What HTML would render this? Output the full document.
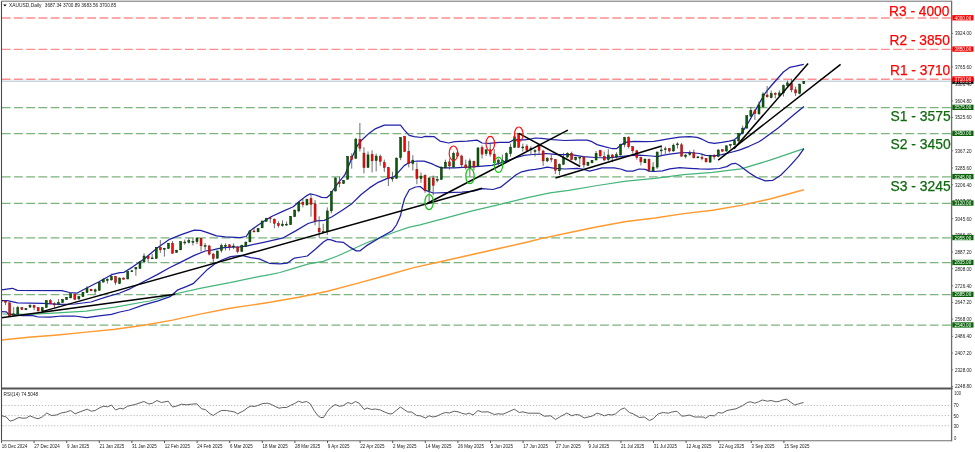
<!DOCTYPE html>
<html lang="en"><head><meta charset="utf-8"><title>XAUUSD Daily</title>
<style>
html,body{margin:0;padding:0;background:#fff;}
body{width:975px;height:452px;overflow:hidden;}
svg{display:block;}
text{font-family:"Liberation Sans",sans-serif;}
.ax{font-size:5.2px;fill:#1a1a1a;}
.bxl{font-size:5.2px;fill:#fff;}
.big{font-size:14.8px;}
</style></head><body>
<svg width="975" height="452" viewBox="0 0 975 452">
<rect x="0" y="0" width="975" height="452" fill="#fff"/>
<g fill="none" stroke-dasharray="8.8 3.41">
<path d="M1.8 18.0 H951.6" stroke="#ff8f8f" stroke-width="1.35"/>
<path d="M1.8 49.3 H951.6" stroke="#ff8f8f" stroke-width="1.35"/>
<path d="M1.8 79.2 H951.6" stroke="#ff8f8f" stroke-width="1.35"/>
<path d="M1.8 107.6 H951.6" stroke="#7db37d" stroke-width="1.2"/>
<path d="M1.8 133.6 H951.6" stroke="#7db37d" stroke-width="1.2"/>
<path d="M1.8 176.8 H951.6" stroke="#7db37d" stroke-width="1.2"/>
<path d="M1.8 203.3 H951.6" stroke="#7db37d" stroke-width="1.2"/>
<path d="M1.8 237.8 H951.6" stroke="#7db37d" stroke-width="1.2"/>
<path d="M1.8 262.7 H951.6" stroke="#7db37d" stroke-width="1.2"/>
<path d="M1.8 294.6 H951.6" stroke="#7db37d" stroke-width="1.2"/>
<path d="M1.8 325.2 H951.6" stroke="#7db37d" stroke-width="1.2"/>
</g>
<path d="M1.5 81.2 H951.6" stroke="#b4c3cf" stroke-width="1" fill="none"/>
<path d="M1.5 340.0 L28.7 337.3 L57.5 335.0 L86.2 332.1 L115.0 329.2 L143.7 325.2 L172.5 320.1 L201.2 313.9 L230.0 308.2 L258.7 304.0 L270.0 302.3 L298.7 297.3 L327.5 291.2 L356.2 283.6 L385.0 275.7 L413.7 267.6 L442.5 261.2 L471.2 254.8 L500.0 248.2 L528.7 241.8 L540.0 238.9 L568.7 232.8 L597.5 226.7 L626.2 221.5 L655.0 218.0 L683.7 213.6 L712.5 210.2 L741.2 205.4 L770.0 199.0 L803.9 189.8" fill="none" stroke="#ff9a30" stroke-width="1.4" stroke-linejoin="round"/>
<path d="M2.3 314.0 L28.7 314.3 L57.5 312.8 L86.2 311.1 L115.0 307.1 L143.7 302.0 L150.0 301.0 L172.5 294.5 L201.2 288.1 L230.0 282.7 L258.7 276.6 L270.0 274.6 L280.0 272.5 L294.4 268.2 L308.7 263.9 L323.1 261.3 L337.5 256.0 L351.9 249.5 L366.2 243.0 L380.6 237.3 L395.0 232.0 L409.4 227.2 L420.0 224.8 L442.5 218.8 L471.2 211.1 L500.0 204.4 L528.7 197.3 L550.0 192.9 L568.7 190.4 L597.5 185.5 L626.2 181.2 L655.0 178.3 L683.7 174.6 L712.5 172.3 L741.2 168.8 L770.0 160.2 L803.9 148.7" fill="none" stroke="#45b57a" stroke-width="1.25" stroke-linejoin="round"/>
<path d="M1.5 289.8 L12.4 288.3 L17.3 290.4 L62.0 290.6 L69.3 292.5 L76.8 293.2 L86.7 288.0 L99.0 281.7 L111.5 274.7 L120.0 272.7 L123.7 272.5 L132.4 267.1 L144.8 258.5 L157.2 247.9 L169.5 239.3 L181.9 234.3 L194.3 230.2 L200.5 230.4 L206.7 232.4 L216.6 235.9 L225.3 236.8 L240.0 237.6 L246.2 236.5 L249.9 230.9 L258.6 224.7 L271.0 216.7 L283.3 211.1 L293.3 206.8 L299.4 201.2 L306.9 195.6 L310.2 193.8 L315.5 195.0 L321.7 197.4 L326.7 197.7 L330.4 194.5 L332.4 191.0 L338.6 182.3 L344.8 174.9 L348.5 166.2 L352.2 157.1 L357.2 145.9 L362.1 139.7 L369.5 132.9 L375.7 128.6 L384.4 125.2 L400.5 125.1 L404.2 129.8 L409.2 135.4 L414.1 136.6 L421.5 137.5 L425.3 136.3 L433.9 136.6 L439.9 141.1 L448.6 143.0 L454.8 141.7 L467.2 141.1 L477.1 140.1 L482.0 143.0 L489.4 143.3 L499.3 142.3 L509.3 142.3 L514.2 139.6 L524.1 139.9 L529.1 139.3 L535.3 138.0 L541.5 138.4 L552.4 139.6 L564.8 140.5 L577.2 140.1 L587.1 140.1 L592.0 141.7 L597.0 144.6 L604.4 146.7 L611.8 148.5 L616.8 148.5 L620.5 145.4 L625.4 142.3 L634.1 141.4 L645.3 141.7 L653.9 141.4 L659.9 140.4 L669.8 138.6 L679.7 137.1 L689.6 136.7 L697.1 137.3 L702.0 139.2 L708.2 142.3 L714.4 143.3 L721.8 142.3 L729.3 141.1 L734.2 139.8 L739.2 136.1 L744.1 129.3 L747.5 124.0 L752.4 115.4 L758.6 104.6 L764.8 93.7 L771.0 86.0 L777.2 79.0 L783.4 72.0 L789.6 67.4 L795.7 66.2 L803.8 64.3" fill="none" stroke="#2020a8" stroke-width="1.25" stroke-linejoin="round"/>
<path d="M1.5 300.6 L7.5 300.6 L17.5 302.8 L43.0 303.4 L60.0 304.3 L75.0 304.0 L86.7 302.5 L90.9 302.0 L105.0 297.3 L119.8 293.0 L130.0 288.8 L144.8 281.0 L157.2 274.6 L169.5 267.8 L181.9 261.6 L194.3 255.4 L205.4 251.0 L212.9 249.8 L221.5 247.9 L231.5 247.1 L240.0 246.8 L247.4 245.8 L264.8 242.1 L283.3 237.8 L295.7 230.9 L308.1 223.5 L316.8 220.8 L324.2 220.4 L331.6 217.0 L342.3 210.2 L352.2 203.4 L360.9 194.7 L369.5 187.9 L378.2 182.3 L386.9 178.6 L394.3 176.7 L399.3 171.2 L404.2 165.6 L409.2 162.5 L416.6 161.0 L424.0 161.2 L431.5 163.6 L435.0 165.3 L441.1 167.8 L454.8 167.8 L467.2 167.1 L479.5 166.3 L491.9 165.3 L499.3 163.4 L506.8 160.9 L516.7 157.5 L524.1 155.4 L532.8 154.5 L541.5 154.1 L546.2 153.5 L552.4 154.1 L558.6 154.7 L571.0 154.7 L583.3 156.6 L595.7 157.5 L608.1 157.8 L620.5 156.6 L629.2 155.7 L639.1 155.1 L651.5 156.0 L657.4 156.6 L662.4 155.3 L669.8 154.1 L679.7 152.8 L689.6 152.5 L699.5 153.5 L705.7 155.3 L714.4 155.9 L721.8 154.7 L730.5 152.5 L739.2 150.2 L749.1 146.3 L759.0 141.7 L765.2 137.6 L778.5 127.7 L791.7 116.6 L803.9 106.6" fill="none" stroke="#2020a8" stroke-width="1.25" stroke-linejoin="round"/>
<path d="M1.5 311.7 L6.4 311.9 L8.6 314.2 L22.3 315.6 L32.9 315.7 L38.2 317.0 L50.0 317.2 L61.9 316.0 L74.3 316.0 L86.7 317.7 L99.0 315.8 L111.5 314.4 L119.8 312.0 L129.3 310.0 L143.7 304.8 L158.1 300.8 L170.1 296.7 L177.3 290.2 L186.8 286.3 L193.1 283.7 L200.3 276.6 L207.5 269.4 L214.7 263.9 L221.9 260.0 L230.5 256.7 L242.0 255.3 L250.6 257.6 L259.2 258.9 L269.3 263.3 L280.0 263.9 L287.2 263.2 L294.4 258.1 L301.6 257.0 L307.3 256.0 L315.9 248.8 L323.1 242.3 L327.4 239.4 L330.3 239.7 L336.1 241.6 L343.2 242.3 L349.0 246.6 L356.2 250.9 L359.8 250.9 L366.2 245.9 L380.6 237.3 L392.1 230.8 L396.4 225.0 L399.3 218.6 L400.7 215.0 L402.0 208.0 L404.6 198.5 L409.3 189.8 L415.5 187.0 L420.1 186.5 L424.8 190.2 L433.3 193.0 L446.5 192.6 L461.9 192.1 L474.3 191.0 L482.1 188.7 L492.9 189.5 L500.6 187.2 L508.4 181.0 L516.1 174.8 L521.6 171.8 L529.1 170.2 L535.3 169.4 L541.5 168.4 L547.4 167.1 L554.9 168.4 L564.8 169.0 L577.2 168.4 L582.1 169.0 L589.5 171.1 L595.7 169.6 L601.9 167.8 L614.3 167.8 L620.5 169.0 L626.7 171.1 L632.9 171.1 L639.1 169.0 L645.3 169.4 L649.0 171.1 L653.9 171.5 L662.4 170.8 L669.8 168.9 L679.7 167.7 L689.6 168.3 L699.5 168.9 L709.4 169.2 L719.3 168.5 L726.8 166.6 L731.7 163.8 L735.4 163.3 L739.2 165.2 L744.1 168.9 L749.1 172.7 L756.4 177.4 L765.2 180.8 L772.9 180.3 L780.7 175.2 L789.5 166.4 L798.4 156.4 L803.9 148.7" fill="none" stroke="#2020a8" stroke-width="1.25" stroke-linejoin="round"/>
<g>
<path d="M5.57 300.3 V305.2" stroke="#4a4a4a" stroke-width="0.8"/><rect x="4.57" y="301.0" width="2.0" height="1.2" fill="#f40808" stroke="#8c1010" stroke-width="0.5"/>
<path d="M9.64 302.5 V316.0" stroke="#4a4a4a" stroke-width="0.8"/><rect x="8.64" y="302.8" width="2.0" height="13.0" fill="#f40808" stroke="#8c1010" stroke-width="0.5"/>
<path d="M13.72 307.1 V315.5" stroke="#4a4a4a" stroke-width="0.8"/><rect x="12.72" y="313.9" width="2.0" height="1.3" fill="#0a5c0a" stroke="#063406" stroke-width="0.5"/>
<path d="M17.79 305.9 V314.6" stroke="#4a4a4a" stroke-width="0.8"/><rect x="16.79" y="307.5" width="2.0" height="6.5" fill="#0a5c0a" stroke="#063406" stroke-width="0.5"/>
<path d="M21.86 307.0 V310.0" stroke="#4a4a4a" stroke-width="0.8"/><rect x="20.86" y="307.7" width="2.0" height="1.9" fill="#f40808" stroke="#8c1010" stroke-width="0.5"/>
<path d="M25.93 308.3 V310.0" stroke="#4a4a4a" stroke-width="0.8"/><rect x="24.93" y="308.6" width="2.0" height="1.2" fill="#0a5c0a" stroke="#063406" stroke-width="0.5"/>
<path d="M30.01 304.4 V307.8" stroke="#4a4a4a" stroke-width="0.8"/><rect x="29.01" y="305.2" width="2.0" height="1.9" fill="#0a5c0a" stroke="#063406" stroke-width="0.5"/>
<path d="M34.08 304.7 V310.2" stroke="#4a4a4a" stroke-width="0.8"/><rect x="33.08" y="305.6" width="2.0" height="1.8" fill="#f40808" stroke="#8c1010" stroke-width="0.5"/>
<path d="M38.15 307.2 V311.3" stroke="#4a4a4a" stroke-width="0.8"/><rect x="37.15" y="307.7" width="2.0" height="3.3" fill="#f40808" stroke="#8c1010" stroke-width="0.5"/>
<path d="M42.22 307.0 V311.4" stroke="#4a4a4a" stroke-width="0.8"/><rect x="41.22" y="307.5" width="2.0" height="3.5" fill="#0a5c0a" stroke="#063406" stroke-width="0.5"/>
<path d="M46.30 300.0 V308.0" stroke="#4a4a4a" stroke-width="0.8"/><rect x="45.30" y="300.5" width="2.0" height="7.0" fill="#0a5c0a" stroke="#063406" stroke-width="0.5"/>
<path d="M50.37 299.1 V304.0" stroke="#4a4a4a" stroke-width="0.8"/><rect x="49.37" y="300.7" width="2.0" height="2.9" fill="#f40808" stroke="#8c1010" stroke-width="0.5"/>
<path d="M54.44 302.2 V307.8" stroke="#4a4a4a" stroke-width="0.8"/><rect x="53.44" y="303.8" width="2.0" height="1.1" fill="#f40808" stroke="#8c1010" stroke-width="0.5"/>
<path d="M58.52 299.1 V305.3" stroke="#4a4a4a" stroke-width="0.8"/><rect x="57.52" y="302.5" width="2.0" height="2.1" fill="#0a5c0a" stroke="#063406" stroke-width="0.5"/>
<path d="M62.59 299.0 V303.0" stroke="#4a4a4a" stroke-width="0.8"/><rect x="61.59" y="299.4" width="2.0" height="3.1" fill="#0a5c0a" stroke="#063406" stroke-width="0.5"/>
<path d="M66.66 297.0 V300.0" stroke="#4a4a4a" stroke-width="0.8"/><rect x="65.66" y="297.4" width="2.0" height="2.3" fill="#0a5c0a" stroke="#063406" stroke-width="0.5"/>
<path d="M70.73 292.3 V298.5" stroke="#4a4a4a" stroke-width="0.8"/><rect x="69.73" y="293.7" width="2.0" height="4.1" fill="#0a5c0a" stroke="#063406" stroke-width="0.5"/>
<path d="M74.80 293.8 V299.8" stroke="#4a4a4a" stroke-width="0.8"/><rect x="73.80" y="294.1" width="2.0" height="5.3" fill="#f40808" stroke="#8c1010" stroke-width="0.5"/>
<path d="M78.88 296.2 V299.5" stroke="#4a4a4a" stroke-width="0.8"/><rect x="77.88" y="296.6" width="2.0" height="2.4" fill="#0a5c0a" stroke="#063406" stroke-width="0.5"/>
<path d="M82.95 292.0 V297.0" stroke="#4a4a4a" stroke-width="0.8"/><rect x="81.95" y="292.2" width="2.0" height="4.4" fill="#0a5c0a" stroke="#063406" stroke-width="0.5"/>
<path d="M87.02 286.1 V292.9" stroke="#4a4a4a" stroke-width="0.8"/><rect x="86.02" y="288.2" width="2.0" height="4.3" fill="#0a5c0a" stroke="#063406" stroke-width="0.5"/>
<path d="M91.09 288.8 V291.2" stroke="#4a4a4a" stroke-width="0.8"/><rect x="90.09" y="289.2" width="2.0" height="1.6" fill="#f40808" stroke="#8c1010" stroke-width="0.5"/>
<path d="M95.17 288.5 V294.1" stroke="#4a4a4a" stroke-width="0.8"/><rect x="94.17" y="289.8" width="2.0" height="1.5" fill="#0a5c0a" stroke="#063406" stroke-width="0.5"/>
<path d="M99.24 282.0 V290.8" stroke="#4a4a4a" stroke-width="0.8"/><rect x="98.24" y="282.3" width="2.0" height="8.1" fill="#0a5c0a" stroke="#063406" stroke-width="0.5"/>
<path d="M103.31 278.0 V282.4" stroke="#4a4a4a" stroke-width="0.8"/><rect x="102.31" y="279.6" width="2.0" height="2.5" fill="#0a5c0a" stroke="#063406" stroke-width="0.5"/>
<path d="M107.38 278.0 V283.6" stroke="#4a4a4a" stroke-width="0.8"/><rect x="106.38" y="279.6" width="2.0" height="0.9" fill="#0a5c0a" stroke="#063406" stroke-width="0.5"/>
<path d="M111.46 273.7 V280.5" stroke="#4a4a4a" stroke-width="0.8"/><rect x="110.46" y="276.4" width="2.0" height="3.5" fill="#0a5c0a" stroke="#063406" stroke-width="0.5"/>
<path d="M115.53 276.2 V284.8" stroke="#4a4a4a" stroke-width="0.8"/><rect x="114.53" y="276.4" width="2.0" height="5.9" fill="#f40808" stroke="#8c1010" stroke-width="0.5"/>
<path d="M119.60 277.5 V284.0" stroke="#4a4a4a" stroke-width="0.8"/><rect x="118.60" y="278.0" width="2.0" height="5.6" fill="#0a5c0a" stroke="#063406" stroke-width="0.5"/>
<path d="M123.67 277.5 V279.8" stroke="#4a4a4a" stroke-width="0.8"/><rect x="122.67" y="278.0" width="2.0" height="1.2" fill="#f40808" stroke="#8c1010" stroke-width="0.5"/>
<path d="M127.75 271.0 V279.3" stroke="#4a4a4a" stroke-width="0.8"/><rect x="126.75" y="271.5" width="2.0" height="7.4" fill="#0a5c0a" stroke="#063406" stroke-width="0.5"/>
<path d="M131.82 270.2 V272.1" stroke="#4a4a4a" stroke-width="0.8"/><rect x="130.82" y="270.8" width="2.0" height="0.9" fill="#0a5c0a" stroke="#063406" stroke-width="0.5"/>
<path d="M135.89 267.0 V275.8" stroke="#4a4a4a" stroke-width="0.8"/><rect x="134.89" y="267.4" width="2.0" height="1.6" fill="#0a5c0a" stroke="#063406" stroke-width="0.5"/>
<path d="M139.97 261.3 V268.8" stroke="#4a4a4a" stroke-width="0.8"/><rect x="138.97" y="261.8" width="2.0" height="6.6" fill="#0a5c0a" stroke="#063406" stroke-width="0.5"/>
<path d="M144.04 253.3 V262.2" stroke="#4a4a4a" stroke-width="0.8"/><rect x="143.04" y="256.0" width="2.0" height="5.8" fill="#0a5c0a" stroke="#063406" stroke-width="0.5"/>
<path d="M148.11 255.4 V262.8" stroke="#4a4a4a" stroke-width="0.8"/><rect x="147.11" y="256.2" width="2.0" height="2.5" fill="#f40808" stroke="#8c1010" stroke-width="0.5"/>
<path d="M152.18 254.1 V258.9" stroke="#4a4a4a" stroke-width="0.8"/><rect x="151.18" y="257.9" width="2.0" height="0.9" fill="#0a5c0a" stroke="#063406" stroke-width="0.5"/>
<path d="M156.25 247.0 V258.9" stroke="#4a4a4a" stroke-width="0.8"/><rect x="155.25" y="247.3" width="2.0" height="11.2" fill="#0a5c0a" stroke="#063406" stroke-width="0.5"/>
<path d="M160.33 240.1 V252.9" stroke="#4a4a4a" stroke-width="0.8"/><rect x="159.33" y="247.6" width="2.0" height="2.2" fill="#f40808" stroke="#8c1010" stroke-width="0.5"/>
<path d="M164.40 247.9 V256.6" stroke="#4a4a4a" stroke-width="0.8"/><rect x="163.40" y="248.4" width="2.0" height="0.9" fill="#0a5c0a" stroke="#063406" stroke-width="0.5"/>
<path d="M168.47 243.0 V249.0" stroke="#4a4a4a" stroke-width="0.8"/><rect x="167.47" y="243.3" width="2.0" height="5.2" fill="#0a5c0a" stroke="#063406" stroke-width="0.5"/>
<path d="M172.54 241.1 V253.7" stroke="#4a4a4a" stroke-width="0.8"/><rect x="171.54" y="243.3" width="2.0" height="10.0" fill="#f40808" stroke="#8c1010" stroke-width="0.5"/>
<path d="M176.62 249.8 V253.0" stroke="#4a4a4a" stroke-width="0.8"/><rect x="175.62" y="250.2" width="2.0" height="2.3" fill="#0a5c0a" stroke="#063406" stroke-width="0.5"/>
<path d="M180.69 241.3 V250.2" stroke="#4a4a4a" stroke-width="0.8"/><rect x="179.69" y="241.7" width="2.0" height="8.1" fill="#0a5c0a" stroke="#063406" stroke-width="0.5"/>
<path d="M184.76 239.6 V244.8" stroke="#4a4a4a" stroke-width="0.8"/><rect x="183.76" y="242.0" width="2.0" height="0.9" fill="#0a5c0a" stroke="#063406" stroke-width="0.5"/>
<path d="M188.83 238.0 V243.6" stroke="#4a4a4a" stroke-width="0.8"/><rect x="187.83" y="240.5" width="2.0" height="1.8" fill="#0a5c0a" stroke="#063406" stroke-width="0.5"/>
<path d="M192.91 238.0 V245.4" stroke="#4a4a4a" stroke-width="0.8"/><rect x="191.91" y="241.4" width="2.0" height="0.9" fill="#0a5c0a" stroke="#063406" stroke-width="0.5"/>
<path d="M196.98 237.4 V244.2" stroke="#4a4a4a" stroke-width="0.8"/><rect x="195.98" y="238.0" width="2.0" height="3.7" fill="#0a5c0a" stroke="#063406" stroke-width="0.5"/>
<path d="M201.05 238.0 V251.6" stroke="#4a4a4a" stroke-width="0.8"/><rect x="200.05" y="238.4" width="2.0" height="7.4" fill="#f40808" stroke="#8c1010" stroke-width="0.5"/>
<path d="M205.12 243.0 V250.4" stroke="#4a4a4a" stroke-width="0.8"/><rect x="204.12" y="245.7" width="2.0" height="0.9" fill="#0a5c0a" stroke="#063406" stroke-width="0.5"/>
<path d="M209.20 244.8 V255.4" stroke="#4a4a4a" stroke-width="0.8"/><rect x="208.20" y="246.0" width="2.0" height="8.1" fill="#f40808" stroke="#8c1010" stroke-width="0.5"/>
<path d="M213.27 252.9 V262.8" stroke="#4a4a4a" stroke-width="0.8"/><rect x="212.27" y="254.1" width="2.0" height="4.4" fill="#f40808" stroke="#8c1010" stroke-width="0.5"/>
<path d="M217.34 250.6 V258.6" stroke="#4a4a4a" stroke-width="0.8"/><rect x="216.34" y="251.0" width="2.0" height="7.2" fill="#0a5c0a" stroke="#063406" stroke-width="0.5"/>
<path d="M221.41 243.6 V252.5" stroke="#4a4a4a" stroke-width="0.8"/><rect x="220.41" y="245.4" width="2.0" height="5.0" fill="#0a5c0a" stroke="#063406" stroke-width="0.5"/>
<path d="M225.49 243.3 V250.4" stroke="#4a4a4a" stroke-width="0.8"/><rect x="224.49" y="245.5" width="2.0" height="0.9" fill="#0a5c0a" stroke="#063406" stroke-width="0.5"/>
<path d="M229.56 244.2 V250.4" stroke="#4a4a4a" stroke-width="0.8"/><rect x="228.56" y="244.8" width="2.0" height="2.2" fill="#f40808" stroke="#8c1010" stroke-width="0.5"/>
<path d="M233.63 243.3 V249.2" stroke="#4a4a4a" stroke-width="0.8"/><rect x="232.63" y="246.0" width="2.0" height="0.9" fill="#0a5c0a" stroke="#063406" stroke-width="0.5"/>
<path d="M237.70 246.7 V253.3" stroke="#4a4a4a" stroke-width="0.8"/><rect x="236.70" y="247.0" width="2.0" height="4.6" fill="#f40808" stroke="#8c1010" stroke-width="0.5"/>
<path d="M241.78 244.8 V252.0" stroke="#4a4a4a" stroke-width="0.8"/><rect x="240.78" y="245.2" width="2.0" height="6.3" fill="#0a5c0a" stroke="#063406" stroke-width="0.5"/>
<path d="M245.85 241.7 V246.8" stroke="#4a4a4a" stroke-width="0.8"/><rect x="244.85" y="242.1" width="2.0" height="4.3" fill="#0a5c0a" stroke="#063406" stroke-width="0.5"/>
<path d="M249.92 230.5 V242.2" stroke="#4a4a4a" stroke-width="0.8"/><rect x="248.92" y="230.9" width="2.0" height="10.9" fill="#0a5c0a" stroke="#063406" stroke-width="0.5"/>
<path d="M253.99 227.5 V232.2" stroke="#4a4a4a" stroke-width="0.8"/><rect x="252.99" y="231.0" width="2.0" height="0.9" fill="#f40808" stroke="#8c1010" stroke-width="0.5"/>
<path d="M258.07 228.0 V232.2" stroke="#4a4a4a" stroke-width="0.8"/><rect x="257.07" y="228.5" width="2.0" height="3.3" fill="#0a5c0a" stroke="#063406" stroke-width="0.5"/>
<path d="M262.14 220.6 V228.2" stroke="#4a4a4a" stroke-width="0.8"/><rect x="261.14" y="221.0" width="2.0" height="6.8" fill="#0a5c0a" stroke="#063406" stroke-width="0.5"/>
<path d="M266.21 217.8 V221.7" stroke="#4a4a4a" stroke-width="0.8"/><rect x="265.21" y="218.3" width="2.0" height="3.0" fill="#0a5c0a" stroke="#063406" stroke-width="0.5"/>
<path d="M270.28 217.3 V222.9" stroke="#4a4a4a" stroke-width="0.8"/><rect x="269.28" y="217.8" width="2.0" height="0.9" fill="#f40808" stroke="#8c1010" stroke-width="0.5"/>
<path d="M274.36 218.5 V228.2" stroke="#4a4a4a" stroke-width="0.8"/><rect x="273.36" y="219.2" width="2.0" height="4.1" fill="#f40808" stroke="#8c1010" stroke-width="0.5"/>
<path d="M278.43 221.3 V227.5" stroke="#4a4a4a" stroke-width="0.8"/><rect x="277.43" y="223.7" width="2.0" height="1.9" fill="#f40808" stroke="#8c1010" stroke-width="0.5"/>
<path d="M282.50 220.4 V226.6" stroke="#4a4a4a" stroke-width="0.8"/><rect x="281.50" y="224.1" width="2.0" height="1.6" fill="#0a5c0a" stroke="#063406" stroke-width="0.5"/>
<path d="M286.57 221.6 V225.7" stroke="#4a4a4a" stroke-width="0.8"/><rect x="285.57" y="224.2" width="2.0" height="0.9" fill="#0a5c0a" stroke="#063406" stroke-width="0.5"/>
<path d="M290.65 216.0 V225.1" stroke="#4a4a4a" stroke-width="0.8"/><rect x="289.65" y="216.3" width="2.0" height="8.4" fill="#0a5c0a" stroke="#063406" stroke-width="0.5"/>
<path d="M294.72 209.7 V217.1" stroke="#4a4a4a" stroke-width="0.8"/><rect x="293.72" y="210.1" width="2.0" height="6.6" fill="#0a5c0a" stroke="#063406" stroke-width="0.5"/>
<path d="M298.79 201.8 V212.3" stroke="#4a4a4a" stroke-width="0.8"/><rect x="297.79" y="202.4" width="2.0" height="8.5" fill="#0a5c0a" stroke="#063406" stroke-width="0.5"/>
<path d="M302.87 198.1 V207.4" stroke="#4a4a4a" stroke-width="0.8"/><rect x="301.87" y="202.2" width="2.0" height="2.5" fill="#f40808" stroke="#8c1010" stroke-width="0.5"/>
<path d="M306.94 198.7 V205.5" stroke="#4a4a4a" stroke-width="0.8"/><rect x="305.94" y="199.3" width="2.0" height="5.6" fill="#0a5c0a" stroke="#063406" stroke-width="0.5"/>
<path d="M311.01 195.0 V216.7" stroke="#4a4a4a" stroke-width="0.8"/><rect x="310.01" y="198.7" width="2.0" height="5.6" fill="#f40808" stroke="#8c1010" stroke-width="0.5"/>
<path d="M315.08 200.0 V225.4" stroke="#4a4a4a" stroke-width="0.8"/><rect x="314.08" y="203.9" width="2.0" height="17.1" fill="#f40808" stroke="#8c1010" stroke-width="0.5"/>
<path d="M319.15 216.3 V237.8" stroke="#4a4a4a" stroke-width="0.8"/><rect x="318.15" y="228.2" width="2.0" height="3.7" fill="#f40808" stroke="#8c1010" stroke-width="0.5"/>
<path d="M323.23 223.7 V232.5" stroke="#4a4a4a" stroke-width="0.8"/><rect x="322.23" y="231.5" width="2.0" height="0.9" fill="#0a5c0a" stroke="#063406" stroke-width="0.5"/>
<path d="M327.30 207.4 V234.9" stroke="#4a4a4a" stroke-width="0.8"/><rect x="326.30" y="210.9" width="2.0" height="20.7" fill="#0a5c0a" stroke="#063406" stroke-width="0.5"/>
<path d="M331.37 191.0 V213.3" stroke="#4a4a4a" stroke-width="0.8"/><rect x="330.37" y="191.6" width="2.0" height="19.2" fill="#0a5c0a" stroke="#063406" stroke-width="0.5"/>
<path d="M335.44 177.5 V191.4" stroke="#4a4a4a" stroke-width="0.8"/><rect x="334.44" y="178.0" width="2.0" height="13.0" fill="#0a5c0a" stroke="#063406" stroke-width="0.5"/>
<path d="M339.52 176.7 V187.3" stroke="#4a4a4a" stroke-width="0.8"/><rect x="338.52" y="182.3" width="2.0" height="1.2" fill="#f40808" stroke="#8c1010" stroke-width="0.5"/>
<path d="M343.59 180.0 V184.0" stroke="#4a4a4a" stroke-width="0.8"/><rect x="342.59" y="180.4" width="2.0" height="3.1" fill="#0a5c0a" stroke="#063406" stroke-width="0.5"/>
<path d="M347.66 156.0 V179.6" stroke="#4a4a4a" stroke-width="0.8"/><rect x="346.66" y="156.5" width="2.0" height="22.7" fill="#0a5c0a" stroke="#063406" stroke-width="0.5"/>
<path d="M351.73 153.4 V168.7" stroke="#4a4a4a" stroke-width="0.8"/><rect x="350.73" y="156.5" width="2.0" height="3.1" fill="#f40808" stroke="#8c1010" stroke-width="0.5"/>
<path d="M355.81 137.9 V158.9" stroke="#4a4a4a" stroke-width="0.8"/><rect x="354.81" y="139.1" width="2.0" height="19.2" fill="#0a5c0a" stroke="#063406" stroke-width="0.5"/>
<path d="M359.88 123.0 V151.5" stroke="#4a4a4a" stroke-width="0.8"/><rect x="358.88" y="139.5" width="2.0" height="8.9" fill="#f40808" stroke="#8c1010" stroke-width="0.5"/>
<path d="M363.95 147.2 V173.4" stroke="#4a4a4a" stroke-width="0.8"/><rect x="362.95" y="153.1" width="2.0" height="14.6" fill="#f40808" stroke="#8c1010" stroke-width="0.5"/>
<path d="M368.02 151.5 V168.0" stroke="#4a4a4a" stroke-width="0.8"/><rect x="367.02" y="154.9" width="2.0" height="12.5" fill="#0a5c0a" stroke="#063406" stroke-width="0.5"/>
<path d="M372.10 150.3 V172.4" stroke="#4a4a4a" stroke-width="0.8"/><rect x="371.10" y="154.4" width="2.0" height="6.4" fill="#f40808" stroke="#8c1010" stroke-width="0.5"/>
<path d="M376.17 153.6 V171.4" stroke="#4a4a4a" stroke-width="0.8"/><rect x="375.17" y="156.1" width="2.0" height="4.5" fill="#0a5c0a" stroke="#063406" stroke-width="0.5"/>
<path d="M380.24 154.6 V165.6" stroke="#4a4a4a" stroke-width="0.8"/><rect x="379.24" y="156.5" width="2.0" height="4.9" fill="#f40808" stroke="#8c1010" stroke-width="0.5"/>
<path d="M384.31 159.6 V171.8" stroke="#4a4a4a" stroke-width="0.8"/><rect x="383.31" y="162.5" width="2.0" height="4.9" fill="#f40808" stroke="#8c1010" stroke-width="0.5"/>
<path d="M388.39 166.8 V186.0" stroke="#4a4a4a" stroke-width="0.8"/><rect x="387.39" y="167.7" width="2.0" height="10.6" fill="#f40808" stroke="#8c1010" stroke-width="0.5"/>
<path d="M392.46 171.8 V181.7" stroke="#4a4a4a" stroke-width="0.8"/><rect x="391.46" y="178.0" width="2.0" height="0.9" fill="#0a5c0a" stroke="#063406" stroke-width="0.5"/>
<path d="M396.53 157.6 V178.8" stroke="#4a4a4a" stroke-width="0.8"/><rect x="395.53" y="158.1" width="2.0" height="20.2" fill="#0a5c0a" stroke="#063406" stroke-width="0.5"/>
<path d="M400.60 137.3 V160.2" stroke="#4a4a4a" stroke-width="0.8"/><rect x="399.60" y="137.5" width="2.0" height="20.2" fill="#0a5c0a" stroke="#063406" stroke-width="0.5"/>
<path d="M404.68 135.8 V152.1" stroke="#4a4a4a" stroke-width="0.8"/><rect x="403.68" y="136.3" width="2.0" height="15.2" fill="#f40808" stroke="#8c1010" stroke-width="0.5"/>
<path d="M408.75 141.0 V167.4" stroke="#4a4a4a" stroke-width="0.8"/><rect x="407.75" y="151.5" width="2.0" height="12.2" fill="#f40808" stroke="#8c1010" stroke-width="0.5"/>
<path d="M412.82 155.2 V170.5" stroke="#4a4a4a" stroke-width="0.8"/><rect x="411.82" y="160.2" width="2.0" height="3.3" fill="#0a5c0a" stroke="#063406" stroke-width="0.5"/>
<path d="M416.89 162.5 V184.2" stroke="#4a4a4a" stroke-width="0.8"/><rect x="415.89" y="169.3" width="2.0" height="9.3" fill="#f40808" stroke="#8c1010" stroke-width="0.5"/>
<path d="M420.97 172.4 V182.9" stroke="#4a4a4a" stroke-width="0.8"/><rect x="419.97" y="176.1" width="2.0" height="2.5" fill="#0a5c0a" stroke="#063406" stroke-width="0.5"/>
<path d="M425.04 174.3 V192.8" stroke="#4a4a4a" stroke-width="0.8"/><rect x="424.04" y="175.5" width="2.0" height="15.2" fill="#f40808" stroke="#8c1010" stroke-width="0.5"/>
<path d="M429.11 177.3 V201.5" stroke="#4a4a4a" stroke-width="0.8"/><rect x="428.11" y="178.0" width="2.0" height="12.7" fill="#0a5c0a" stroke="#063406" stroke-width="0.5"/>
<path d="M433.19 175.5 V195.3" stroke="#4a4a4a" stroke-width="0.8"/><rect x="432.19" y="178.0" width="2.0" height="7.4" fill="#f40808" stroke="#8c1010" stroke-width="0.5"/>
<path d="M437.26 176.1 V182.3" stroke="#4a4a4a" stroke-width="0.8"/><rect x="436.26" y="179.5" width="2.0" height="0.9" fill="#0a5c0a" stroke="#063406" stroke-width="0.5"/>
<path d="M441.33 166.5 V180.0" stroke="#4a4a4a" stroke-width="0.8"/><rect x="440.33" y="167.1" width="2.0" height="12.4" fill="#0a5c0a" stroke="#063406" stroke-width="0.5"/>
<path d="M445.40 159.7 V168.4" stroke="#4a4a4a" stroke-width="0.8"/><rect x="444.40" y="162.2" width="2.0" height="5.6" fill="#0a5c0a" stroke="#063406" stroke-width="0.5"/>
<path d="M449.47 158.5 V169.6" stroke="#4a4a4a" stroke-width="0.8"/><rect x="448.47" y="161.9" width="2.0" height="4.0" fill="#f40808" stroke="#8c1010" stroke-width="0.5"/>
<path d="M453.55 151.6 V167.8" stroke="#4a4a4a" stroke-width="0.8"/><rect x="452.55" y="153.3" width="2.0" height="13.8" fill="#0a5c0a" stroke="#063406" stroke-width="0.5"/>
<path d="M457.62 151.0 V157.0" stroke="#4a4a4a" stroke-width="0.8"/><rect x="456.62" y="152.9" width="2.0" height="3.1" fill="#f40808" stroke="#8c1010" stroke-width="0.5"/>
<path d="M461.69 154.7 V167.8" stroke="#4a4a4a" stroke-width="0.8"/><rect x="460.69" y="156.0" width="2.0" height="8.9" fill="#f40808" stroke="#8c1010" stroke-width="0.5"/>
<path d="M465.76 159.7 V169.6" stroke="#4a4a4a" stroke-width="0.8"/><rect x="464.76" y="164.9" width="2.0" height="2.9" fill="#f40808" stroke="#8c1010" stroke-width="0.5"/>
<path d="M469.84 158.5 V176.4" stroke="#4a4a4a" stroke-width="0.8"/><rect x="468.84" y="160.9" width="2.0" height="7.5" fill="#0a5c0a" stroke="#063406" stroke-width="0.5"/>
<path d="M473.91 160.9 V170.2" stroke="#4a4a4a" stroke-width="0.8"/><rect x="472.91" y="161.2" width="2.0" height="5.9" fill="#f40808" stroke="#8c1010" stroke-width="0.5"/>
<path d="M477.98 147.5 V166.3" stroke="#4a4a4a" stroke-width="0.8"/><rect x="476.98" y="147.9" width="2.0" height="18.0" fill="#0a5c0a" stroke="#063406" stroke-width="0.5"/>
<path d="M482.05 145.4 V158.5" stroke="#4a4a4a" stroke-width="0.8"/><rect x="481.05" y="147.6" width="2.0" height="6.5" fill="#f40808" stroke="#8c1010" stroke-width="0.5"/>
<path d="M486.13 149.2 V156.0" stroke="#4a4a4a" stroke-width="0.8"/><rect x="485.13" y="149.8" width="2.0" height="3.9" fill="#0a5c0a" stroke="#063406" stroke-width="0.5"/>
<path d="M490.20 143.0 V156.6" stroke="#4a4a4a" stroke-width="0.8"/><rect x="489.20" y="149.8" width="2.0" height="4.3" fill="#f40808" stroke="#8c1010" stroke-width="0.5"/>
<path d="M494.27 149.2 V163.4" stroke="#4a4a4a" stroke-width="0.8"/><rect x="493.27" y="154.1" width="2.0" height="8.7" fill="#f40808" stroke="#8c1010" stroke-width="0.5"/>
<path d="M498.34 158.5 V165.3" stroke="#4a4a4a" stroke-width="0.8"/><rect x="497.34" y="160.1" width="2.0" height="2.4" fill="#0a5c0a" stroke="#063406" stroke-width="0.5"/>
<path d="M502.42 154.7 V162.2" stroke="#4a4a4a" stroke-width="0.8"/><rect x="501.42" y="160.4" width="2.0" height="0.9" fill="#0a5c0a" stroke="#063406" stroke-width="0.5"/>
<path d="M506.49 152.3 V161.6" stroke="#4a4a4a" stroke-width="0.8"/><rect x="505.49" y="153.7" width="2.0" height="7.2" fill="#0a5c0a" stroke="#063406" stroke-width="0.5"/>
<path d="M510.56 143.6 V156.6" stroke="#4a4a4a" stroke-width="0.8"/><rect x="509.56" y="147.1" width="2.0" height="6.6" fill="#0a5c0a" stroke="#063406" stroke-width="0.5"/>
<path d="M514.63 136.2 V147.9" stroke="#4a4a4a" stroke-width="0.8"/><rect x="513.63" y="136.8" width="2.0" height="10.5" fill="#0a5c0a" stroke="#063406" stroke-width="0.5"/>
<path d="M518.71 133.1 V147.9" stroke="#4a4a4a" stroke-width="0.8"/><rect x="517.71" y="133.7" width="2.0" height="13.6" fill="#f40808" stroke="#8c1010" stroke-width="0.5"/>
<path d="M522.78 143.6 V151.6" stroke="#4a4a4a" stroke-width="0.8"/><rect x="521.78" y="147.0" width="2.0" height="0.9" fill="#0a5c0a" stroke="#063406" stroke-width="0.5"/>
<path d="M526.85 144.2 V151.6" stroke="#4a4a4a" stroke-width="0.8"/><rect x="525.85" y="146.1" width="2.0" height="4.3" fill="#f40808" stroke="#8c1010" stroke-width="0.5"/>
<path d="M530.92 146.1 V154.7" stroke="#4a4a4a" stroke-width="0.8"/><rect x="529.92" y="148.2" width="2.0" height="0.9" fill="#0a5c0a" stroke="#063406" stroke-width="0.5"/>
<path d="M535.00 149.2 V156.6" stroke="#4a4a4a" stroke-width="0.8"/><rect x="534.00" y="150.7" width="2.0" height="0.9" fill="#0a5c0a" stroke="#063406" stroke-width="0.5"/>
<path d="M539.07 143.6 V154.7" stroke="#4a4a4a" stroke-width="0.8"/><rect x="538.07" y="144.2" width="2.0" height="6.2" fill="#f40808" stroke="#8c1010" stroke-width="0.5"/>
<path d="M543.14 149.8 V165.9" stroke="#4a4a4a" stroke-width="0.8"/><rect x="542.14" y="151.0" width="2.0" height="9.9" fill="#f40808" stroke="#8c1010" stroke-width="0.5"/>
<path d="M547.21 157.2 V162.2" stroke="#4a4a4a" stroke-width="0.8"/><rect x="546.21" y="158.2" width="2.0" height="2.7" fill="#0a5c0a" stroke="#063406" stroke-width="0.5"/>
<path d="M551.29 154.7 V162.2" stroke="#4a4a4a" stroke-width="0.8"/><rect x="550.29" y="158.5" width="2.0" height="0.9" fill="#f40808" stroke="#8c1010" stroke-width="0.5"/>
<path d="M555.36 159.1 V173.9" stroke="#4a4a4a" stroke-width="0.8"/><rect x="554.36" y="159.7" width="2.0" height="10.5" fill="#f40808" stroke="#8c1010" stroke-width="0.5"/>
<path d="M559.43 163.4 V175.2" stroke="#4a4a4a" stroke-width="0.8"/><rect x="558.43" y="164.7" width="2.0" height="6.1" fill="#0a5c0a" stroke="#063406" stroke-width="0.5"/>
<path d="M563.50 152.9 V164.7" stroke="#4a4a4a" stroke-width="0.8"/><rect x="562.50" y="157.8" width="2.0" height="6.6" fill="#0a5c0a" stroke="#063406" stroke-width="0.5"/>
<path d="M567.58 152.3 V157.8" stroke="#4a4a4a" stroke-width="0.8"/><rect x="566.58" y="153.5" width="2.0" height="3.5" fill="#0a5c0a" stroke="#063406" stroke-width="0.5"/>
<path d="M571.65 151.6 V160.3" stroke="#4a4a4a" stroke-width="0.8"/><rect x="570.65" y="153.5" width="2.0" height="6.2" fill="#f40808" stroke="#8c1010" stroke-width="0.5"/>
<path d="M575.72 156.6 V160.9" stroke="#4a4a4a" stroke-width="0.8"/><rect x="574.72" y="157.2" width="2.0" height="2.5" fill="#0a5c0a" stroke="#063406" stroke-width="0.5"/>
<path d="M579.79 157.2 V164.7" stroke="#4a4a4a" stroke-width="0.8"/><rect x="578.79" y="157.2" width="2.0" height="0.9" fill="#0a5c0a" stroke="#063406" stroke-width="0.5"/>
<path d="M583.87 156.0 V167.8" stroke="#4a4a4a" stroke-width="0.8"/><rect x="582.87" y="157.0" width="2.0" height="7.9" fill="#f40808" stroke="#8c1010" stroke-width="0.5"/>
<path d="M587.94 161.8 V165.7" stroke="#4a4a4a" stroke-width="0.8"/><rect x="586.94" y="162.2" width="2.0" height="3.1" fill="#0a5c0a" stroke="#063406" stroke-width="0.5"/>
<path d="M592.01 159.9 V163.2" stroke="#4a4a4a" stroke-width="0.8"/><rect x="591.01" y="160.3" width="2.0" height="2.5" fill="#0a5c0a" stroke="#063406" stroke-width="0.5"/>
<path d="M596.08 151.0 V160.3" stroke="#4a4a4a" stroke-width="0.8"/><rect x="595.08" y="153.3" width="2.0" height="6.7" fill="#0a5c0a" stroke="#063406" stroke-width="0.5"/>
<path d="M600.16 149.8 V156.6" stroke="#4a4a4a" stroke-width="0.8"/><rect x="599.16" y="150.4" width="2.0" height="5.6" fill="#f40808" stroke="#8c1010" stroke-width="0.5"/>
<path d="M604.23 151.6 V160.9" stroke="#4a4a4a" stroke-width="0.8"/><rect x="603.23" y="156.6" width="2.0" height="3.4" fill="#f40808" stroke="#8c1010" stroke-width="0.5"/>
<path d="M608.30 149.2 V160.9" stroke="#4a4a4a" stroke-width="0.8"/><rect x="607.30" y="155.0" width="2.0" height="4.7" fill="#0a5c0a" stroke="#063406" stroke-width="0.5"/>
<path d="M612.38 154.1 V162.2" stroke="#4a4a4a" stroke-width="0.8"/><rect x="611.38" y="155.0" width="2.0" height="2.0" fill="#f40808" stroke="#8c1010" stroke-width="0.5"/>
<path d="M616.45 152.3 V158.5" stroke="#4a4a4a" stroke-width="0.8"/><rect x="615.45" y="154.7" width="2.0" height="2.3" fill="#0a5c0a" stroke="#063406" stroke-width="0.5"/>
<path d="M620.52 143.6 V155.4" stroke="#4a4a4a" stroke-width="0.8"/><rect x="619.52" y="144.6" width="2.0" height="10.4" fill="#0a5c0a" stroke="#063406" stroke-width="0.5"/>
<path d="M624.59 136.8 V147.3" stroke="#4a4a4a" stroke-width="0.8"/><rect x="623.59" y="137.4" width="2.0" height="7.2" fill="#0a5c0a" stroke="#063406" stroke-width="0.5"/>
<path d="M628.66 136.2 V148.5" stroke="#4a4a4a" stroke-width="0.8"/><rect x="627.66" y="137.4" width="2.0" height="9.3" fill="#f40808" stroke="#8c1010" stroke-width="0.5"/>
<path d="M632.74 146.1 V153.5" stroke="#4a4a4a" stroke-width="0.8"/><rect x="631.74" y="146.7" width="2.0" height="4.1" fill="#f40808" stroke="#8c1010" stroke-width="0.5"/>
<path d="M636.81 149.8 V159.7" stroke="#4a4a4a" stroke-width="0.8"/><rect x="635.81" y="150.8" width="2.0" height="6.7" fill="#f40808" stroke="#8c1010" stroke-width="0.5"/>
<path d="M640.88 156.6 V165.3" stroke="#4a4a4a" stroke-width="0.8"/><rect x="639.88" y="157.5" width="2.0" height="4.4" fill="#f40808" stroke="#8c1010" stroke-width="0.5"/>
<path d="M644.95 158.7 V163.2" stroke="#4a4a4a" stroke-width="0.8"/><rect x="643.95" y="159.1" width="2.0" height="3.7" fill="#0a5c0a" stroke="#063406" stroke-width="0.5"/>
<path d="M649.03 158.5 V172.1" stroke="#4a4a4a" stroke-width="0.8"/><rect x="648.03" y="159.4" width="2.0" height="10.8" fill="#f40808" stroke="#8c1010" stroke-width="0.5"/>
<path d="M653.10 162.1 V171.1" stroke="#4a4a4a" stroke-width="0.8"/><rect x="652.10" y="167.1" width="2.0" height="3.7" fill="#0a5c0a" stroke="#063406" stroke-width="0.5"/>
<path d="M657.17 151.6 V168.9" stroke="#4a4a4a" stroke-width="0.8"/><rect x="656.17" y="152.0" width="2.0" height="15.1" fill="#0a5c0a" stroke="#063406" stroke-width="0.5"/>
<path d="M661.25 146.6 V155.3" stroke="#4a4a4a" stroke-width="0.8"/><rect x="660.25" y="150.0" width="2.0" height="0.9" fill="#0a5c0a" stroke="#063406" stroke-width="0.5"/>
<path d="M665.32 146.6 V154.1" stroke="#4a4a4a" stroke-width="0.8"/><rect x="664.32" y="148.8" width="2.0" height="0.9" fill="#0a5c0a" stroke="#063406" stroke-width="0.5"/>
<path d="M669.39 147.9 V152.5" stroke="#4a4a4a" stroke-width="0.8"/><rect x="668.39" y="148.5" width="2.0" height="2.5" fill="#f40808" stroke="#8c1010" stroke-width="0.5"/>
<path d="M673.46 143.5 V151.6" stroke="#4a4a4a" stroke-width="0.8"/><rect x="672.46" y="145.2" width="2.0" height="5.8" fill="#0a5c0a" stroke="#063406" stroke-width="0.5"/>
<path d="M677.53 142.3 V148.5" stroke="#4a4a4a" stroke-width="0.8"/><rect x="676.53" y="143.9" width="2.0" height="0.9" fill="#0a5c0a" stroke="#063406" stroke-width="0.5"/>
<path d="M681.61 142.9 V156.6" stroke="#4a4a4a" stroke-width="0.8"/><rect x="680.61" y="144.8" width="2.0" height="11.4" fill="#f40808" stroke="#8c1010" stroke-width="0.5"/>
<path d="M685.68 154.1 V158.4" stroke="#4a4a4a" stroke-width="0.8"/><rect x="684.68" y="155.1" width="2.0" height="1.5" fill="#0a5c0a" stroke="#063406" stroke-width="0.5"/>
<path d="M689.75 150.4 V155.9" stroke="#4a4a4a" stroke-width="0.8"/><rect x="688.75" y="153.2" width="2.0" height="1.2" fill="#0a5c0a" stroke="#063406" stroke-width="0.5"/>
<path d="M693.82 149.5 V158.4" stroke="#4a4a4a" stroke-width="0.8"/><rect x="692.82" y="152.8" width="2.0" height="5.0" fill="#f40808" stroke="#8c1010" stroke-width="0.5"/>
<path d="M697.90 155.9 V158.2" stroke="#4a4a4a" stroke-width="0.8"/><rect x="696.90" y="156.9" width="2.0" height="0.9" fill="#0a5c0a" stroke="#063406" stroke-width="0.5"/>
<path d="M701.97 153.5 V160.3" stroke="#4a4a4a" stroke-width="0.8"/><rect x="700.97" y="157.2" width="2.0" height="1.5" fill="#f40808" stroke="#8c1010" stroke-width="0.5"/>
<path d="M706.04 158.0 V162.3" stroke="#4a4a4a" stroke-width="0.8"/><rect x="705.04" y="158.4" width="2.0" height="3.5" fill="#f40808" stroke="#8c1010" stroke-width="0.5"/>
<path d="M710.12 154.7 V162.8" stroke="#4a4a4a" stroke-width="0.8"/><rect x="709.12" y="155.3" width="2.0" height="6.8" fill="#0a5c0a" stroke="#063406" stroke-width="0.5"/>
<path d="M714.19 154.1 V159.7" stroke="#4a4a4a" stroke-width="0.8"/><rect x="713.19" y="155.3" width="2.0" height="1.6" fill="#f40808" stroke="#8c1010" stroke-width="0.5"/>
<path d="M718.26 149.1 V157.2" stroke="#4a4a4a" stroke-width="0.8"/><rect x="717.26" y="150.0" width="2.0" height="6.6" fill="#0a5c0a" stroke="#063406" stroke-width="0.5"/>
<path d="M722.33 149.3 V151.6" stroke="#4a4a4a" stroke-width="0.8"/><rect x="721.33" y="149.7" width="2.0" height="1.5" fill="#f40808" stroke="#8c1010" stroke-width="0.5"/>
<path d="M726.40 145.4 V151.6" stroke="#4a4a4a" stroke-width="0.8"/><rect x="725.40" y="145.8" width="2.0" height="5.2" fill="#0a5c0a" stroke="#063406" stroke-width="0.5"/>
<path d="M730.48 144.2 V148.5" stroke="#4a4a4a" stroke-width="0.8"/><rect x="729.48" y="144.5" width="2.0" height="0.9" fill="#0a5c0a" stroke="#063406" stroke-width="0.5"/>
<path d="M734.55 139.8 V145.4" stroke="#4a4a4a" stroke-width="0.8"/><rect x="733.55" y="140.4" width="2.0" height="4.4" fill="#0a5c0a" stroke="#063406" stroke-width="0.5"/>
<path d="M738.62 133.0 V142.9" stroke="#4a4a4a" stroke-width="0.8"/><rect x="737.62" y="133.6" width="2.0" height="7.2" fill="#0a5c0a" stroke="#063406" stroke-width="0.5"/>
<path d="M742.69 125.6 V134.3" stroke="#4a4a4a" stroke-width="0.8"/><rect x="741.69" y="128.1" width="2.0" height="5.5" fill="#0a5c0a" stroke="#063406" stroke-width="0.5"/>
<path d="M746.77 115.2 V128.5" stroke="#4a4a4a" stroke-width="0.8"/><rect x="745.77" y="115.7" width="2.0" height="12.4" fill="#0a5c0a" stroke="#063406" stroke-width="0.5"/>
<path d="M750.84 106.9 V116.9" stroke="#4a4a4a" stroke-width="0.8"/><rect x="749.84" y="110.4" width="2.0" height="5.8" fill="#0a5c0a" stroke="#063406" stroke-width="0.5"/>
<path d="M754.91 109.2 V120.0" stroke="#4a4a4a" stroke-width="0.8"/><rect x="753.91" y="110.8" width="2.0" height="2.7" fill="#f40808" stroke="#8c1010" stroke-width="0.5"/>
<path d="M758.99 101.5 V114.6" stroke="#4a4a4a" stroke-width="0.8"/><rect x="757.99" y="104.9" width="2.0" height="9.0" fill="#0a5c0a" stroke="#063406" stroke-width="0.5"/>
<path d="M763.06 92.2 V107.7" stroke="#4a4a4a" stroke-width="0.8"/><rect x="762.06" y="94.0" width="2.0" height="12.9" fill="#0a5c0a" stroke="#063406" stroke-width="0.5"/>
<path d="M767.13 86.0 V97.6" stroke="#4a4a4a" stroke-width="0.8"/><rect x="766.13" y="95.0" width="2.0" height="1.8" fill="#f40808" stroke="#8c1010" stroke-width="0.5"/>
<path d="M771.20 90.6 V98.4" stroke="#4a4a4a" stroke-width="0.8"/><rect x="770.20" y="93.7" width="2.0" height="3.9" fill="#0a5c0a" stroke="#063406" stroke-width="0.5"/>
<path d="M775.27 92.2 V98.4" stroke="#4a4a4a" stroke-width="0.8"/><rect x="774.27" y="93.4" width="2.0" height="1.1" fill="#f40808" stroke="#8c1010" stroke-width="0.5"/>
<path d="M779.35 90.3 V96.5" stroke="#4a4a4a" stroke-width="0.8"/><rect x="778.35" y="92.9" width="2.0" height="2.7" fill="#0a5c0a" stroke="#063406" stroke-width="0.5"/>
<path d="M783.42 84.4 V96.5" stroke="#4a4a4a" stroke-width="0.8"/><rect x="782.42" y="85.7" width="2.0" height="7.2" fill="#0a5c0a" stroke="#063406" stroke-width="0.5"/>
<path d="M787.49 80.6 V86.7" stroke="#4a4a4a" stroke-width="0.8"/><rect x="786.49" y="82.9" width="2.0" height="2.8" fill="#0a5c0a" stroke="#063406" stroke-width="0.5"/>
<path d="M791.56 79.0 V92.2" stroke="#4a4a4a" stroke-width="0.8"/><rect x="790.56" y="83.7" width="2.0" height="6.1" fill="#f40808" stroke="#8c1010" stroke-width="0.5"/>
<path d="M795.64 86.7 V96.0" stroke="#4a4a4a" stroke-width="0.8"/><rect x="794.64" y="89.8" width="2.0" height="3.1" fill="#f40808" stroke="#8c1010" stroke-width="0.5"/>
<path d="M799.71 83.7 V94.5" stroke="#4a4a4a" stroke-width="0.8"/><rect x="798.71" y="84.1" width="2.0" height="9.3" fill="#0a5c0a" stroke="#063406" stroke-width="0.5"/>
<path d="M803.78 81.0 V84.1" stroke="#4a4a4a" stroke-width="0.8"/><rect x="802.78" y="81.3" width="2.0" height="2.4" fill="#0a5c0a" stroke="#063406" stroke-width="0.5"/>
</g>
<path d="M1.5 299 L2.9 300.8 L1.5 302.6 Z" fill="#111"/>
<g stroke="#000" stroke-width="1.5" stroke-linecap="butt" fill="none">
<path d="M42 311.6 L482 188.3"/>
<path d="M1.4 317.85 L175.3 294.3"/>
<path d="M427 203.5 L567.9 130.2"/>
<path d="M518.8 133.4 L580.2 166.5"/>
<path d="M555.5 178 L661.8 146"/>
<path d="M734 148.8 L808.1 63.5"/>
<path d="M718.2 160.2 L840.6 64.3"/>
</g>
<ellipse cx="453.5" cy="153.3" rx="4.3" ry="7.3" fill="none" stroke="#ff1010" stroke-width="1.2"/>
<ellipse cx="490.3" cy="143.6" rx="4.3" ry="7.3" fill="none" stroke="#ff1010" stroke-width="1.2"/>
<ellipse cx="518.8" cy="134.3" rx="4.3" ry="7.3" fill="none" stroke="#ff1010" stroke-width="1.2"/>
<ellipse cx="429.1" cy="202" rx="4.2" ry="7.6" fill="none" stroke="#12c412" stroke-width="1.2"/>
<ellipse cx="470" cy="176" rx="4.2" ry="7.6" fill="none" stroke="#12c412" stroke-width="1.2"/>
<ellipse cx="498.5" cy="164.8" rx="4.2" ry="7.6" fill="none" stroke="#12c412" stroke-width="1.2"/>
<path d="M2.25 405.5 H951.6" stroke="#bcbcbc" stroke-width="1" stroke-dasharray="1.3 1.75" fill="none"/>
<path d="M2.25 415.6 H951.6" stroke="#bcbcbc" stroke-width="1" stroke-dasharray="1.3 1.75" fill="none"/>
<path d="M2.25 425.8 H951.6" stroke="#bcbcbc" stroke-width="1" stroke-dasharray="1.3 1.75" fill="none"/>
<path d="M2.0 415.8 L6.3 417.0 L10.0 421.2 L13.8 420.0 L18.8 417.5 L22.5 418.2 L26.3 418.0 L30.0 415.8 L33.8 417.5 L38.0 418.8 L42.5 416.8 L46.8 413.0 L51.3 415.5 L56.3 415.0 L61.3 413.0 L66.3 412.0 L70.6 410.5 L75.1 413.8 L80.1 411.8 L87.1 409.2 L91.3 411.2 L95.1 410.5 L100.1 407.5 L103.9 406.2 L107.6 406.8 L111.4 405.0 L115.6 410.0 L120.1 408.2 L123.1 409.0 L127.6 406.2 L135.1 404.5 L143.9 401.5 L148.9 404.0 L152.7 403.2 L156.9 400.5 L161.4 402.5 L168.2 401.2 L172.7 407.0 L176.4 406.2 L181.4 404.2 L186.4 404.8 L191.4 404.2 L196.9 403.8 L201.5 408.8 L205.2 409.5 L210.2 413.8 L213.2 415.5 L217.7 412.5 L221.5 410.5 L226.5 410.5 L230.2 411.2 L234.0 411.8 L237.7 413.8 L244.0 410.5 L247.8 407.5 L251.0 406.0 L254.0 406.5 L257.8 405.5 L262.8 403.5 L267.8 403.2 L271.5 404.5 L275.3 406.5 L279.0 408.2 L282.8 407.5 L286.5 407.5 L290.3 405.5 L294.1 403.8 L298.6 401.2 L302.1 402.5 L306.6 401.5 L310.3 403.8 L314.1 410.5 L317.8 415.5 L320.3 417.5 L323.6 417.5 L326.6 412.5 L330.3 408.0 L335.3 404.5 L339.1 406.2 L342.8 405.8 L347.9 402.5 L351.6 403.8 L355.4 401.5 L359.1 403.2 L364.1 409.5 L367.1 408.0 L371.6 409.5 L375.4 409.0 L380.4 410.0 L384.1 411.8 L389.1 413.8 L392.1 413.8 L396.7 410.0 L400.4 407.0 L404.2 409.5 L407.9 412.0 L411.7 412.0 L416.7 415.5 L420.4 415.8 L425.4 418.0 L429.2 415.8 L432.9 417.0 L436.7 416.2 L441.7 413.8 L445.5 412.5 L449.2 413.0 L454.2 411.2 L458.0 411.8 L461.7 413.2 L465.5 414.2 L469.2 413.2 L473.0 415.0 L478.0 410.5 L481.7 412.0 L488.0 411.8 L494.3 414.5 L498.0 413.8 L503.0 414.2 L508.0 412.0 L514.3 409.2 L519.3 412.5 L523.0 411.8 L528.0 413.2 L539.3 413.2 L544.3 416.2 L550.6 415.8 L555.6 419.5 L560.6 416.5 L566.8 413.0 L571.8 415.8 L575.6 414.5 L579.3 415.0 L584.3 418.0 L588.1 417.0 L591.9 416.2 L596.9 413.2 L600.6 414.2 L604.4 415.8 L608.1 414.5 L611.9 415.0 L615.6 413.8 L620.6 409.5 L624.4 408.0 L629.4 412.5 L633.1 413.8 L639.4 417.5 L644.4 417.0 L649.4 420.5 L653.2 418.8 L658.2 413.8 L663.2 412.5 L668.2 413.2 L671.9 412.0 L676.9 411.2 L681.9 416.2 L685.7 415.8 L689.5 415.0 L694.5 417.0 L703.2 417.0 L705.7 418.2 L709.5 415.5 L714.5 415.8 L718.2 412.5 L722.0 413.2 L727.0 410.5 L732.0 409.5 L736.0 408.8 L742.3 405.8 L747.3 402.5 L750.5 401.8 L754.8 403.2 L758.5 401.8 L762.3 400.0 L767.3 401.2 L771.0 400.5 L776.0 401.8 L779.8 401.2 L782.3 400.0 L786.6 399.2 L791.1 402.5 L794.8 405.0 L798.6 403.8 L803.6 402.5" fill="none" stroke="#585858" stroke-width="0.95" stroke-linejoin="round"/>
<g stroke="#6e6e6e" fill="none">
<path d="M1.5 1.2 H951.6" stroke-width="1"/>
<path d="M1.5 1.2 V440.8" stroke-width="1.1" stroke="#4a4a4a"/>
<path d="M951.6 0.7 V441.3" stroke-width="1.3"/>
<path d="M1.5 388.5 H952.6" stroke-width="2" stroke="#555"/>
<path d="M1.5 440.8 H951.6" stroke-width="1.1"/>
</g>
<path d="M952.2 33.5 h0.9" stroke="#444" stroke-width="0.8"/><text class="ax" x="955" y="35.4" textLength="16.6" lengthAdjust="spacingAndGlyphs">3924.00</text>
<path d="M952.2 50.2 h0.9" stroke="#444" stroke-width="0.8"/><text class="ax" x="955" y="52.1" textLength="16.6" lengthAdjust="spacingAndGlyphs">3844.80</text>
<path d="M952.2 66.9 h0.9" stroke="#444" stroke-width="0.8"/><text class="ax" x="955" y="68.8" textLength="16.6" lengthAdjust="spacingAndGlyphs">3765.60</text>
<path d="M952.2 83.6 h0.9" stroke="#444" stroke-width="0.8"/><text class="ax" x="955" y="85.5" textLength="16.6" lengthAdjust="spacingAndGlyphs">3686.40</text>
<path d="M952.2 100.8 h0.9" stroke="#444" stroke-width="0.8"/><text class="ax" x="955" y="102.7" textLength="16.6" lengthAdjust="spacingAndGlyphs">3604.80</text>
<path d="M952.2 117.5 h0.9" stroke="#444" stroke-width="0.8"/><text class="ax" x="955" y="119.4" textLength="16.6" lengthAdjust="spacingAndGlyphs">3525.60</text>
<path d="M952.2 134.1 h0.9" stroke="#444" stroke-width="0.8"/><text class="ax" x="955" y="136.0" textLength="16.6" lengthAdjust="spacingAndGlyphs">3446.40</text>
<path d="M952.2 150.8 h0.9" stroke="#444" stroke-width="0.8"/><text class="ax" x="955" y="152.7" textLength="16.6" lengthAdjust="spacingAndGlyphs">3367.20</text>
<path d="M952.2 168.0 h0.9" stroke="#444" stroke-width="0.8"/><text class="ax" x="955" y="169.9" textLength="16.6" lengthAdjust="spacingAndGlyphs">3285.60</text>
<path d="M952.2 184.7 h0.9" stroke="#444" stroke-width="0.8"/><text class="ax" x="955" y="186.6" textLength="16.6" lengthAdjust="spacingAndGlyphs">3206.40</text>
<path d="M952.2 201.4 h0.9" stroke="#444" stroke-width="0.8"/><text class="ax" x="955" y="203.3" textLength="16.6" lengthAdjust="spacingAndGlyphs">3127.20</text>
<path d="M952.2 218.6 h0.9" stroke="#444" stroke-width="0.8"/><text class="ax" x="955" y="220.5" textLength="16.6" lengthAdjust="spacingAndGlyphs">3045.60</text>
<path d="M952.2 235.3 h0.9" stroke="#444" stroke-width="0.8"/><text class="ax" x="955" y="237.2" textLength="16.6" lengthAdjust="spacingAndGlyphs">2966.40</text>
<path d="M952.2 252.0 h0.9" stroke="#444" stroke-width="0.8"/><text class="ax" x="955" y="253.9" textLength="16.6" lengthAdjust="spacingAndGlyphs">2887.20</text>
<path d="M952.2 268.7 h0.9" stroke="#444" stroke-width="0.8"/><text class="ax" x="955" y="270.6" textLength="16.6" lengthAdjust="spacingAndGlyphs">2808.00</text>
<path d="M952.2 285.9 h0.9" stroke="#444" stroke-width="0.8"/><text class="ax" x="955" y="287.8" textLength="16.6" lengthAdjust="spacingAndGlyphs">2726.40</text>
<path d="M952.2 302.5 h0.9" stroke="#444" stroke-width="0.8"/><text class="ax" x="955" y="304.4" textLength="16.6" lengthAdjust="spacingAndGlyphs">2647.20</text>
<path d="M952.2 319.2 h0.9" stroke="#444" stroke-width="0.8"/><text class="ax" x="955" y="321.1" textLength="16.6" lengthAdjust="spacingAndGlyphs">2568.00</text>
<path d="M952.2 336.4 h0.9" stroke="#444" stroke-width="0.8"/><text class="ax" x="955" y="338.3" textLength="16.6" lengthAdjust="spacingAndGlyphs">2486.40</text>
<path d="M952.2 353.1 h0.9" stroke="#444" stroke-width="0.8"/><text class="ax" x="955" y="355.0" textLength="16.6" lengthAdjust="spacingAndGlyphs">2407.20</text>
<path d="M952.2 369.8 h0.9" stroke="#444" stroke-width="0.8"/><text class="ax" x="955" y="371.7" textLength="16.6" lengthAdjust="spacingAndGlyphs">2328.00</text>
<path d="M952.2 386.5 h0.9" stroke="#444" stroke-width="0.8"/><text class="ax" x="955" y="388.4" textLength="16.6" lengthAdjust="spacingAndGlyphs">2248.80</text>
<rect x="952.3" y="78.0" width="21.2" height="5.8" fill="#000"/><text class="bxl" x="954.6" y="82.5" textLength="16.6" lengthAdjust="spacingAndGlyphs">3700.85</text>
<rect x="952.3" y="15.1" width="21.2" height="5.3" fill="#f00"/><text class="bxl" x="954.6" y="19.7" textLength="16.6" lengthAdjust="spacingAndGlyphs">4000.00</text>
<rect x="952.3" y="46.4" width="21.2" height="5.3" fill="#f00"/><text class="bxl" x="954.6" y="51.0" textLength="16.6" lengthAdjust="spacingAndGlyphs">3850.00</text>
<rect x="952.3" y="76.3" width="21.2" height="5.3" fill="#f00"/><text class="bxl" x="954.6" y="80.9" textLength="16.6" lengthAdjust="spacingAndGlyphs">3710.00</text>
<rect x="952.3" y="104.7" width="21.2" height="5.3" fill="#0b640b"/><text class="bxl" x="954.6" y="109.3" textLength="16.6" lengthAdjust="spacingAndGlyphs">3575.00</text>
<rect x="952.3" y="130.7" width="21.2" height="5.3" fill="#0b640b"/><text class="bxl" x="954.6" y="135.3" textLength="16.6" lengthAdjust="spacingAndGlyphs">3450.00</text>
<rect x="952.3" y="173.9" width="21.2" height="5.3" fill="#0b640b"/><text class="bxl" x="954.6" y="178.5" textLength="16.6" lengthAdjust="spacingAndGlyphs">3245.00</text>
<rect x="952.3" y="200.4" width="21.2" height="5.3" fill="#0b640b"/><text class="bxl" x="954.6" y="205.0" textLength="16.6" lengthAdjust="spacingAndGlyphs">3120.00</text>
<rect x="952.3" y="234.9" width="21.2" height="5.3" fill="#0b640b"/><text class="bxl" x="954.6" y="239.5" textLength="16.6" lengthAdjust="spacingAndGlyphs">2955.00</text>
<rect x="952.3" y="259.8" width="21.2" height="5.3" fill="#0b640b"/><text class="bxl" x="954.6" y="264.4" textLength="16.6" lengthAdjust="spacingAndGlyphs">2835.00</text>
<rect x="952.3" y="291.7" width="21.2" height="5.3" fill="#0b640b"/><text class="bxl" x="954.6" y="296.3" textLength="16.6" lengthAdjust="spacingAndGlyphs">2685.00</text>
<rect x="952.3" y="322.3" width="21.2" height="5.3" fill="#0b640b"/><text class="bxl" x="954.6" y="326.9" textLength="16.6" lengthAdjust="spacingAndGlyphs">2540.00</text>
<text class="ax" x="954.3" y="394.8" textLength="6.6" lengthAdjust="spacingAndGlyphs">100</text>
<text class="ax" x="953.5" y="407.4" textLength="5.2" lengthAdjust="spacingAndGlyphs">70</text>
<text class="ax" x="953.5" y="417.5" textLength="5.2" lengthAdjust="spacingAndGlyphs">50</text>
<text class="ax" x="953.5" y="427.8" textLength="5.2" lengthAdjust="spacingAndGlyphs">30</text>
<text class="ax" x="954.0" y="440.0" textLength="2.3" lengthAdjust="spacingAndGlyphs">0</text>
<text class="big" x="889.1" y="15.6" fill="#ff0000" stroke="#ff0000" stroke-width="0.25" textLength="60.2" lengthAdjust="spacingAndGlyphs">R3 - 4000</text>
<text class="big" x="889.6" y="45.0" fill="#ff0000" stroke="#ff0000" stroke-width="0.25" textLength="60.2" lengthAdjust="spacingAndGlyphs">R2 - 3850</text>
<text class="big" x="890.0" y="74.7" fill="#ff0000" stroke="#ff0000" stroke-width="0.25" textLength="60.2" lengthAdjust="spacingAndGlyphs">R1 - 3710</text>
<text class="big" x="890.5" y="120.9" fill="#0f6b0f" stroke="#0f6b0f" stroke-width="0.25" textLength="60.2" lengthAdjust="spacingAndGlyphs">S1 - 3575</text>
<text class="big" x="890.5" y="148.8" fill="#0f6b0f" stroke="#0f6b0f" stroke-width="0.25" textLength="60.2" lengthAdjust="spacingAndGlyphs">S2 - 3450</text>
<text class="big" x="890.5" y="191" fill="#0f6b0f" stroke="#0f6b0f" stroke-width="0.25" textLength="60.2" lengthAdjust="spacingAndGlyphs">S3 - 3245</text>
<path d="M3.3 4.5 h3.3 l-1.65 1.9 z" fill="#000"/>
<text class="ax" style="font-size:4.9px" x="9" y="6.85" textLength="32.5" lengthAdjust="spacingAndGlyphs">XAUUSD,Daily</text>
<text class="ax" style="font-size:4.9px" x="44.8" y="6.85" textLength="71.5" lengthAdjust="spacingAndGlyphs">3687.34 3700.89 3683.56 3700.85</text>
<text class="ax" x="3.6" y="395.6" textLength="34.6" lengthAdjust="spacingAndGlyphs">RSI(14) 74.5048</text>
<path d="M1.5 440.8 v2.2" stroke="#444" stroke-width="0.9"/><text class="ax" transform="translate(1.7 448.4) scale(0.865 1)">16 Dec 2024</text>
<path d="M34.1 440.8 v2.2" stroke="#444" stroke-width="0.9"/><text class="ax" transform="translate(34.3 448.4) scale(0.865 1)">27 Dec 2024</text>
<path d="M66.7 440.8 v2.2" stroke="#444" stroke-width="0.9"/><text class="ax" transform="translate(66.9 448.4) scale(0.865 1)">9 Jan 2025</text>
<path d="M99.3 440.8 v2.2" stroke="#444" stroke-width="0.9"/><text class="ax" transform="translate(99.5 448.4) scale(0.865 1)">21 Jan 2025</text>
<path d="M131.9 440.8 v2.2" stroke="#444" stroke-width="0.9"/><text class="ax" transform="translate(132.1 448.4) scale(0.865 1)">31 Jan 2025</text>
<path d="M164.5 440.8 v2.2" stroke="#444" stroke-width="0.9"/><text class="ax" transform="translate(164.7 448.4) scale(0.865 1)">12 Feb 2025</text>
<path d="M197.1 440.8 v2.2" stroke="#444" stroke-width="0.9"/><text class="ax" transform="translate(197.3 448.4) scale(0.865 1)">24 Feb 2025</text>
<path d="M229.7 440.8 v2.2" stroke="#444" stroke-width="0.9"/><text class="ax" transform="translate(229.9 448.4) scale(0.865 1)">6 Mar 2025</text>
<path d="M262.3 440.8 v2.2" stroke="#444" stroke-width="0.9"/><text class="ax" transform="translate(262.5 448.4) scale(0.865 1)">18 Mar 2025</text>
<path d="M294.9 440.8 v2.2" stroke="#444" stroke-width="0.9"/><text class="ax" transform="translate(295.1 448.4) scale(0.865 1)">28 Mar 2025</text>
<path d="M327.5 440.8 v2.2" stroke="#444" stroke-width="0.9"/><text class="ax" transform="translate(327.7 448.4) scale(0.865 1)">9 Apr 2025</text>
<path d="M360.1 440.8 v2.2" stroke="#444" stroke-width="0.9"/><text class="ax" transform="translate(360.3 448.4) scale(0.865 1)">22 Apr 2025</text>
<path d="M392.7 440.8 v2.2" stroke="#444" stroke-width="0.9"/><text class="ax" transform="translate(392.9 448.4) scale(0.865 1)">2 May 2025</text>
<path d="M425.3 440.8 v2.2" stroke="#444" stroke-width="0.9"/><text class="ax" transform="translate(425.5 448.4) scale(0.865 1)">14 May 2025</text>
<path d="M457.9 440.8 v2.2" stroke="#444" stroke-width="0.9"/><text class="ax" transform="translate(458.1 448.4) scale(0.865 1)">26 May 2025</text>
<path d="M490.5 440.8 v2.2" stroke="#444" stroke-width="0.9"/><text class="ax" transform="translate(490.7 448.4) scale(0.865 1)">5 Jun 2025</text>
<path d="M523.1 440.8 v2.2" stroke="#444" stroke-width="0.9"/><text class="ax" transform="translate(523.3 448.4) scale(0.865 1)">17 Jun 2025</text>
<path d="M555.7 440.8 v2.2" stroke="#444" stroke-width="0.9"/><text class="ax" transform="translate(555.9 448.4) scale(0.865 1)">27 Jun 2025</text>
<path d="M588.3 440.8 v2.2" stroke="#444" stroke-width="0.9"/><text class="ax" transform="translate(588.5 448.4) scale(0.865 1)">9 Jul 2025</text>
<path d="M620.9 440.8 v2.2" stroke="#444" stroke-width="0.9"/><text class="ax" transform="translate(621.1 448.4) scale(0.865 1)">21 Jul 2025</text>
<path d="M653.5 440.8 v2.2" stroke="#444" stroke-width="0.9"/><text class="ax" transform="translate(653.7 448.4) scale(0.865 1)">31 Jul 2025</text>
<path d="M686.1 440.8 v2.2" stroke="#444" stroke-width="0.9"/><text class="ax" transform="translate(686.3 448.4) scale(0.865 1)">12 Aug 2025</text>
<path d="M718.7 440.8 v2.2" stroke="#444" stroke-width="0.9"/><text class="ax" transform="translate(718.9 448.4) scale(0.865 1)">22 Aug 2025</text>
<path d="M751.3 440.8 v2.2" stroke="#444" stroke-width="0.9"/><text class="ax" transform="translate(751.5 448.4) scale(0.865 1)">3 Sep 2025</text>
<path d="M783.9 440.8 v2.2" stroke="#444" stroke-width="0.9"/><text class="ax" transform="translate(784.1 448.4) scale(0.865 1)">15 Sep 2025</text>
</svg>
</body></html>
